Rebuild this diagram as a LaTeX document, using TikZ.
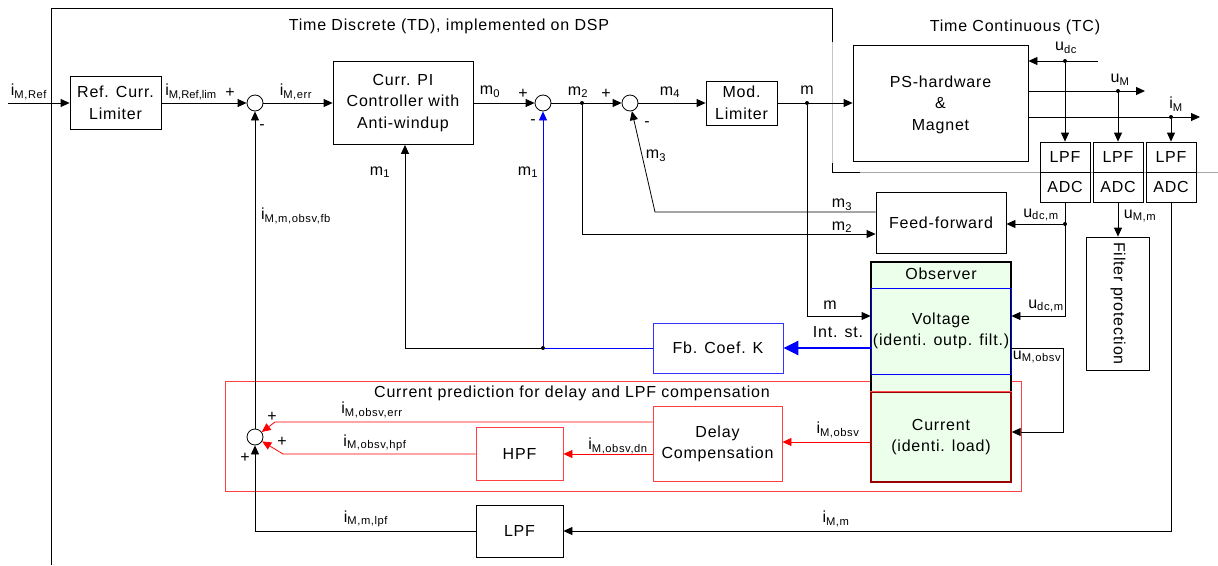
\documentclass[tikz,border=0pt]{standalone}
\usepackage{fontspec}
\setmainfont{Liberation Sans}[LetterSpace=5]
\usepackage{tikz}
\usetikzlibrary{arrows.meta}
\newcommand{\sigl}[2]{#1\textsubscript{#2}}

\begin{document}
\begin{tikzpicture}[x=1pt, y=-1pt, line width=0.8pt, font=\fontsize{16}{21.5}\selectfont]
\tikzstyle{block} = [rectangle, draw, inner sep=0pt, align=center]
\tikzstyle{sum} = [circle, draw, fill=white, minimum size=16pt, inner sep=0pt]
\tikzstyle{arrow} = [-{Triangle[length=9pt,width=8pt]}]
\tikzstyle{bigarrow} = [-{Triangle[length=15pt,width=14pt]}, line width=2.6pt]
\tikzstyle{dot} = [circle, fill, inner sep=0pt, minimum size=4pt]
\tikzstyle{lab} = [inner sep=1pt]
\useasboundingbox (0,0) rectangle (1218,565);

% TD / TC regions
\draw (51,565) -- (51,8) -- (832,8) -- (832,42);
\draw[gray!45] (832,42) -- (832,163);
\draw (832,163) -- (832,172) -- (860,172);
\draw[gray!70] (860,172) -- (1218,172);
\node (tdtitle) at (449,26) {Time Discrete (TD), implemented on DSP};
\node (tctitle) at (1015,27) {Time Continuous (TC)};

% current prediction region
\node (pred) [block, draw=red!75, minimum width=796pt, minimum height=110pt] at (623,436) {};
\node (predtitle) at (572,393) {Current prediction for delay and LPF compensation};

% blocks
\node (reflim) [block, minimum width=91pt, minimum height=53pt] at (115.5,103) {Ref. Curr.\\Limiter};
\node (pictrl) [block, minimum width=140pt, minimum height=83pt] at (403,103) {Curr. PI\\Controller with\\Anti-windup};
\node (modlim) [block, minimum width=71pt, minimum height=44pt] at (741.5,103) {Mod.\\Limiter};
\node (pshw) [block, minimum width=175pt, minimum height=116pt, text depth=-8pt] at (940.5,103) {PS-hardware\\\&\\Magnet};
\node (lpf1) [block, minimum width=50pt, minimum height=30pt] at (1065,157) {LPF};
\node (adc1) [block, minimum width=50pt, minimum height=30pt] at (1065,187) {ADC};
\node (lpf2) [block, minimum width=50pt, minimum height=30pt] at (1118,157) {LPF};
\node (adc2) [block, minimum width=50pt, minimum height=30pt] at (1118,187) {ADC};
\node (lpf3) [block, minimum width=50pt, minimum height=30pt] at (1171,157) {LPF};
\node (adc3) [block, minimum width=50pt, minimum height=30pt] at (1171,187) {ADC};
\node (filt) [block, minimum width=63pt, minimum height=133pt] at (1118,303.5) {};
\node (filttext) [rotate=-90] at (filt) {Filter protection};
\node (ff) [block, minimum width=130pt, minimum height=61pt] at (941,223) {Feed-forward};
\node (obs) [block, fill=green!8, line width=1.6pt, minimum width=140pt, minimum height=130pt] at (941,327) {};
\node (obstitle) at (941,274) {Observer};
\node (volt) [block, draw=blue, minimum width=140pt, minimum height=86pt] at (941,331) {Voltage\\(identi. outp. filt.)};
\node (curr) [block, draw=red!60!black, fill=green!8, line width=1.4pt, minimum width=140pt, minimum height=90pt] at (941,437) {Current\\(identi. load)};
\draw[red!70] (curr.north west) -- (curr.north east);
\node (fbk) [block, draw=blue!80, minimum width=130pt, minimum height=50pt] at (718,348) {Fb. Coef. K};
\node (delay) [block, draw=red!75, minimum width=129pt, minimum height=75pt] at (717.5,444) {Delay\\Compensation};
\node (hpf) [block, draw=red!75, minimum width=87pt, minimum height=53pt] at (519.5,454) {HPF};
\node (lpfb) [block, minimum width=87pt, minimum height=52pt] at (519.5,531) {LPF};

% summing points
\node (s1) [sum] at (255,103) {};
\node (s2) [sum] at (543,103) {};
\node (s3) [sum] at (630,103) {};
\node (s4) [sum] at (255,437) {};

% branch points
\node (dm2) [dot] at (582,103) {};
\node (dm) [dot] at (807,103) {};
\node (dm1) [dot] at (543,348) {};
\node (dudc) [dot] at (1065,61) {};
\node (duM) [dot] at (1118,91) {};
\node (diM) [dot] at (1171,117) {};
\node (dudcm) [dot] at (1065,224) {};
\coordinate (in) at (8,103);
\coordinate (udcin) at (1098,61);
\coordinate (uMout) at (1145,91);
\coordinate (iMout) at (1200,117);

% main path
\draw [arrow] (in) -- (reflim);
\draw [arrow] (reflim) -- (s1);
\draw [arrow] (s1) -- (pictrl);
\draw [arrow] (pictrl) -- (s2);
\draw [arrow] (s2) -- (s3);
\draw [arrow] (s3) -- (modlim);
\draw [arrow] (modlim) -- (pshw);

% plant side
\draw [arrow] (udcin) -- (pshw.east |- udcin);
\draw [arrow] (pshw.east |- uMout) -- (uMout);
\draw [arrow] (pshw.east |- iMout) -- (iMout);
\draw [arrow] (dudc) -- (lpf1);
\draw [arrow] (duM) -- (lpf2);
\draw [arrow] (diM) -- (lpf3);
\draw [arrow] (adc2) -- (filt);
\draw [arrow] (adc1) |- ([yshift=15pt]volt.east);
\draw [arrow] (dudcm) -- (dudcm -| ff.east);
\draw [arrow] ([yshift=-17pt]volt.east) -- ++(52,0) |- ([yshift=5pt]curr.east);
\draw [arrow] (adc3) |- (lpfb);

% feed-forward and observer
\draw [arrow] (dm2) |- ([yshift=-11pt]ff.west);
\draw [arrow] ([yshift=11pt]ff.west) -- (655,212) -- (s3);
\draw [arrow] (dm) |- ([yshift=15pt]volt.west);
\draw [bigarrow, blue] ([yshift=-17pt]volt.west) -- (fbk.east);
\draw [blue] (fbk) -- (dm1);
\draw [arrow, blue] (dm1) -- (s2);
\draw [arrow] (dm1) -| ([xshift=2pt]pictrl.south);

% current prediction
\draw [arrow, red] ([yshift=-5pt]curr.west) -- ([yshift=-5pt]curr.west -| delay.east);
\draw [arrow, red] ([yshift=-10pt]delay.west) -- (hpf);
\draw [arrow, red] ([yshift=22pt]delay.west) -- (275,422) -- (s4);
\draw [arrow, red] (hpf) -- (283,454) -- (s4);
\draw [arrow] (lpfb) -| (s4);
\draw [arrow] (s4) -- (s1);

% signal labels
\node (lIMRef) [lab] at (29,92) {\sigl{i}{M,Ref}};
\node (lIMReflim) [lab] at (191,92) {\addfontfeature{LetterSpace=0}\sigl{i}{M,Ref,lim}};
\node (lIMerr) [lab] at (296,92) {\sigl{i}{M,err}};
\node (lmzero) [lab] at (490,92) {\sigl{m}{0}};
\node (lmtwo) [lab] at (578,92) {\sigl{m}{2}};
\node (lmfour) [lab] at (670,92) {\sigl{m}{4}};
\node (lm) [lab] at (807,90) {m};
\node (lmoneA) [lab] at (380,172) {\sigl{m}{1}};
\node (lmoneB) [lab] at (528,172) {\sigl{m}{1}};
\node (lmthreeA) [lab] at (656,156) {\sigl{m}{3}};
\node (lmthreeB) [lab] at (842,205) {\sigl{m}{3}};
\node (lmtwoB) [lab] at (842,227) {\sigl{m}{2}};
\node (lmB) [lab] at (830,305) {m};
\node (ludc) [lab] at (1066,48) {\sigl{u}{dc}};
\node (luM) [lab] at (1120,80) {\sigl{u}{M}};
\node (liM) [lab] at (1176,104) {\sigl{i}{M}};
\node (ludcmA) [lab] at (1041,215) {\sigl{u}{dc,m}};
\node (ludcmB) [lab] at (1046,306) {\sigl{u}{dc,m}};
\node (luMm) [lab] at (1140,216) {\sigl{u}{M,m}};
\node (luMobsv) [lab] at (1037,357) {\sigl{u}{M,obsv}};
\node (lintst) [lab] at (838,332) {Int. st.};
\node (lfb) [lab] at (296,216) {\sigl{i}{M,m,obsv,fb}};
\node (lobsverr) [lab] at (372,410) {\sigl{i}{M,obsv,err}};
\node (lobsvhpf) [lab] at (375,443) {\sigl{i}{M,obsv,hpf}};
\node (lobsvdn) [lab] at (618,446) {\sigl{i}{M,obsv,dn}};
\node (lobsv) [lab] at (838,430) {\sigl{i}{M,obsv}};
\node (lmlpf) [lab] at (366,519) {\sigl{i}{M,m,lpf}};
\node (lMm) [lab] at (836,519) {\sigl{i}{M,m}};

% signs
\node (ps1) [lab] at (230,93) {+};
\node (ms1) [lab] at (262,127) {-};
\node (ps2) [lab] at (523,94) {+};
\node (ms2) [lab] at (533,122) {-};
\node (ps3) [lab] at (606,94) {+};
\node (ms3) [lab] at (647,124) {-};
\node (ps4a) [lab] at (272,417) {+};
\node (ps4b) [lab] at (282,442) {+};
\node (ps4c) [lab] at (245,458) {+};
\end{tikzpicture}
\end{document}
